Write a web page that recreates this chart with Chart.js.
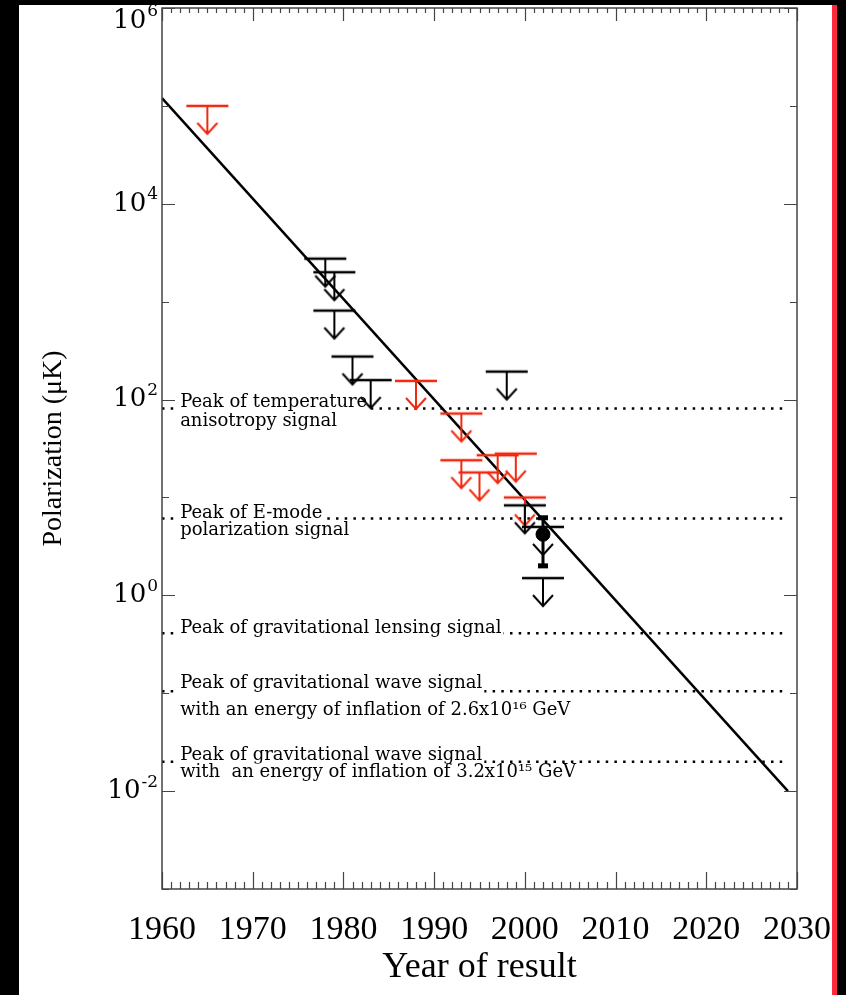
<!DOCTYPE html>
<html>
<head>
<meta charset="utf-8">
<title>Polarization limits by year</title>
<script src="https://cdn.jsdelivr.net/npm/chart.js@4.4.1/dist/chart.umd.min.js"></script>
<style>
  html, body { margin: 0; padding: 0; background: #000; }
  #paper { position: absolute; left: 19px; top: 5px; width: 813px; height: 990px; background: #fff; }
  #edge { position: absolute; left: 832px; top: 5px; width: 5px; height: 990px; background: #fe2a3c; }
</style>
</head>
<body>
<div id="paper"><canvas id="limitsChart"></canvas></div>
<div id="edge"></div>
<script>
// upper limits: the bar sits on the limit, the arrow points down
var redYears    = [1965, 1988, 1993, 1993, 1995, 1997, 1999, 2000];
var redLimits   = [1e5, 155, 72, 24, 18, 27, 28, 10];
var blackYears  = [1978, 1979, 1979, 1981, 1983, 1998, 2000, 2002, 2002];
var blackLimits = [2750, 2000, 810, 275, 158, 193, 8.3, 5.0, 1.5];

// the detection and its error bar
var detectYears  = [2002];
var detectValues = [4.2];
var detectLow    = [2.0];
var detectHigh   = [6.2];

// trend line
var trendYears  = [1960, 2029];
var trendValues = [1.2e5, 0.01];

// theory levels (dotted)
var levelEnds   = [1960, 2028.5];
var levelValues = [81, 6.1, 0.41, 0.105, 0.02];
var levelLabels = [
  ["Peak of temperature", "anisotropy signal"],
  ["Peak of E-mode", "polarization signal"],
  ["Peak of gravitational lensing signal"],
  ["Peak of gravitational wave signal", "with an energy of inflation of 2.6x10\u00b9\u2076 GeV"],
  ["Peak of gravitational wave signal", "with  an energy of inflation of 3.2x10\u00b9\u2075 GeV"]
];

var yearTicks  = [1960, 1970, 1980, 1990, 2000, 2010, 2020, 2030];
var decadeExps = [6, 4, 2, 0, -2];

function points(xs, ys) {
  return xs.map(function (x, i) { return { x: x, y: ys[i] }; });
}

// bar + stem + arrowhead, centred on the bar
function limitMarker(color) {
  var c = document.createElement('canvas');
  c.width = 44; c.height = 64;
  var g = c.getContext('2d');
  g.strokeStyle = color;
  g.lineWidth = 2.5;
  g.beginPath(); g.moveTo(1, 32); g.lineTo(43, 32); g.stroke();
  g.lineWidth = 2;
  g.beginPath(); g.moveTo(22, 32); g.lineTo(22, 60); g.stroke();
  g.beginPath(); g.moveTo(12, 49); g.lineTo(22, 60); g.lineTo(32, 49); g.stroke();
  return c;
}

var redMarker = limitMarker('#f0280f');
var blackMarker = limitMarker('#000');

var datasets = [];
levelValues.forEach(function (v, i) {
  datasets.push({
    data: points(levelEnds, [v, v]),
    showLine: true,
    borderColor: '#000',
    borderWidth: 2.5,
    borderDash: [2.5, 6.2],
    pointRadius: 0,
    order: 10,
    levelIndex: i
  });
});
datasets.push({
  data: points(trendYears, trendValues),
  showLine: true,
  borderColor: '#000',
  borderWidth: 2.5,
  pointRadius: 0,
  order: 5
});
datasets.push({
  data: points(redYears, redLimits),
  pointStyle: redMarker,
  pointRadius: 22,
  order: 3
});
datasets.push({
  data: points(blackYears, blackLimits),
  pointStyle: blackMarker,
  pointRadius: 22,
  order: 2
});
datasets.push({
  data: points([detectYears[0], detectYears[0]], [detectLow[0], detectHigh[0]]),
  showLine: true,
  borderColor: '#000',
  borderWidth: 3,
  pointStyle: 'line',
  pointRadius: 5,
  pointBorderWidth: 5,
  pointBorderColor: '#000',
  order: 1
});
datasets.push({
  data: points(detectYears, detectValues),
  pointStyle: 'circle',
  pointRadius: 7,
  backgroundColor: '#000',
  borderColor: '#000',
  order: 0
});

// text over each dotted level, knocked out of the dots
var levelText = {
  id: 'levelText',
  afterDatasetDraw: function (chart, args) {
    var ds = chart.data.datasets[args.index];
    if (ds.levelIndex === undefined) return;
    var offsets = [[-6, 13], [-5, 12], [-5], [-8, 19], [-6, 11]][ds.levelIndex];
    var g = chart.ctx;
    var x = chart.scales.x.getPixelForValue(1962);
    var y0 = chart.scales.y.getPixelForValue(levelValues[ds.levelIndex]);
    g.save();
    g.font = '18px "DejaVu Serif"';
    g.textAlign = 'left';
    g.textBaseline = 'middle';
    levelLabels[ds.levelIndex].forEach(function (line, k) {
      var y = y0 + offsets[k];
      var w = g.measureText(line).width;
      g.fillStyle = '#fff';
      g.fillRect(x - 2, y - 9, w + 4, 19);
      g.fillStyle = '#000';
      g.fillText(line, x, y);
    });
    g.restore();
  }
};

// box, inward ticks on all four sides, and the decade labels
var frameTicks = {
  id: 'frameTicks',
  afterDraw: function (chart) {
    var a = chart.chartArea, xs = chart.scales.x, ys = chart.scales.y, g = chart.ctx;
    g.save();
    g.strokeStyle = '#444';
    g.lineWidth = 1.5;
    g.strokeRect(a.left, a.top, a.right - a.left, a.bottom - a.top);
    g.lineWidth = 1.2;
    g.beginPath();
    for (var yr = 1960; yr <= 2030; yr++) {
      var px = Math.round(xs.getPixelForValue(yr)) + 0.5;
      var major = yr % 10 === 0;
      g.moveTo(px, a.bottom); g.lineTo(px, a.bottom - (major ? 17 : 7));
      g.moveTo(px, a.top); g.lineTo(px, a.top + (major ? 13 : 5));
    }
    for (var e = -3; e <= 6; e++) {
      var py = Math.round(ys.getPixelForValue(Math.pow(10, e))) + 0.5;
      var len = e % 2 === 0 ? 13 : 7;
      g.moveTo(a.left, py); g.lineTo(a.left + len, py);
      g.moveTo(a.right, py); g.lineTo(a.right - len, py);
    }
    g.stroke();

    g.fillStyle = '#000';
    g.textAlign = 'left';
    g.textBaseline = 'middle';
    decadeExps.forEach(function (e) {
      var py = Math.max(ys.getPixelForValue(Math.pow(10, e)), a.top + 13);
      var sup = String(e);
      g.font = '17px "DejaVu Serif"';
      var ws = g.measureText(sup).width;
      g.font = '26px "DejaVu Serif"';
      var wb = g.measureText('10').width;
      var right = a.left - 4;
      g.fillText('10', right - ws - 1 - wb, py);
      g.font = '17px "DejaVu Serif"';
      g.fillText(sup, right - ws, py - 9);
    });
    g.restore();
  }
};

var ctx = document.getElementById('limitsChart').getContext('2d');
var chart = new Chart(ctx, {
  type: 'scatter',
  data: { datasets: datasets },
  options: {
    responsive: true,
    maintainAspectRatio: false,
    animation: false,
    layout: { autoPadding: false, padding: { top: 3, right: 35, bottom: 0, left: 0 } },
    plugins: { legend: { display: false }, tooltip: { enabled: false } },
    scales: {
      x: {
        type: 'linear',
        min: 1960,
        max: 2030,
        afterBuildTicks: function (s) { s.ticks = yearTicks.map(function (v) { return { value: v }; }); },
        afterFit: function (s) { s.height = 106; s.paddingLeft = 0; s.paddingRight = 0; },
        grid: { display: false, drawTicks: false },
        border: { display: false },
        ticks: {
          color: '#000',
          font: { family: 'Liberation Serif', size: 34 },
          padding: 21,
          maxRotation: 0,
          autoSkip: false,
          callback: function (v) { return String(v); }
        },
        title: {
          display: true,
          text: 'Year of result',
          color: '#000',
          font: { family: 'Liberation Serif', size: 36, lineHeight: 1 },
          padding: { top: 0, bottom: 9 }
        }
      },
      y: {
        type: 'logarithmic',
        min: 1e-3,
        max: 1e6,
        afterFit: function (s) { s.width = 143; s.paddingTop = 0; s.paddingBottom = 0; },
        grid: { display: false, drawTicks: false },
        border: { display: false },
        ticks: { display: false },
        title: {
          display: true,
          text: 'Polarization (\u03bcK)',
          color: '#000',
          font: { family: 'Liberation Serif', size: 28, lineHeight: 1 },
          padding: { top: 21, bottom: 0 }
        }
      }
    }
  },
  plugins: [levelText, frameTicks]
});
</script>
</body>
</html>
